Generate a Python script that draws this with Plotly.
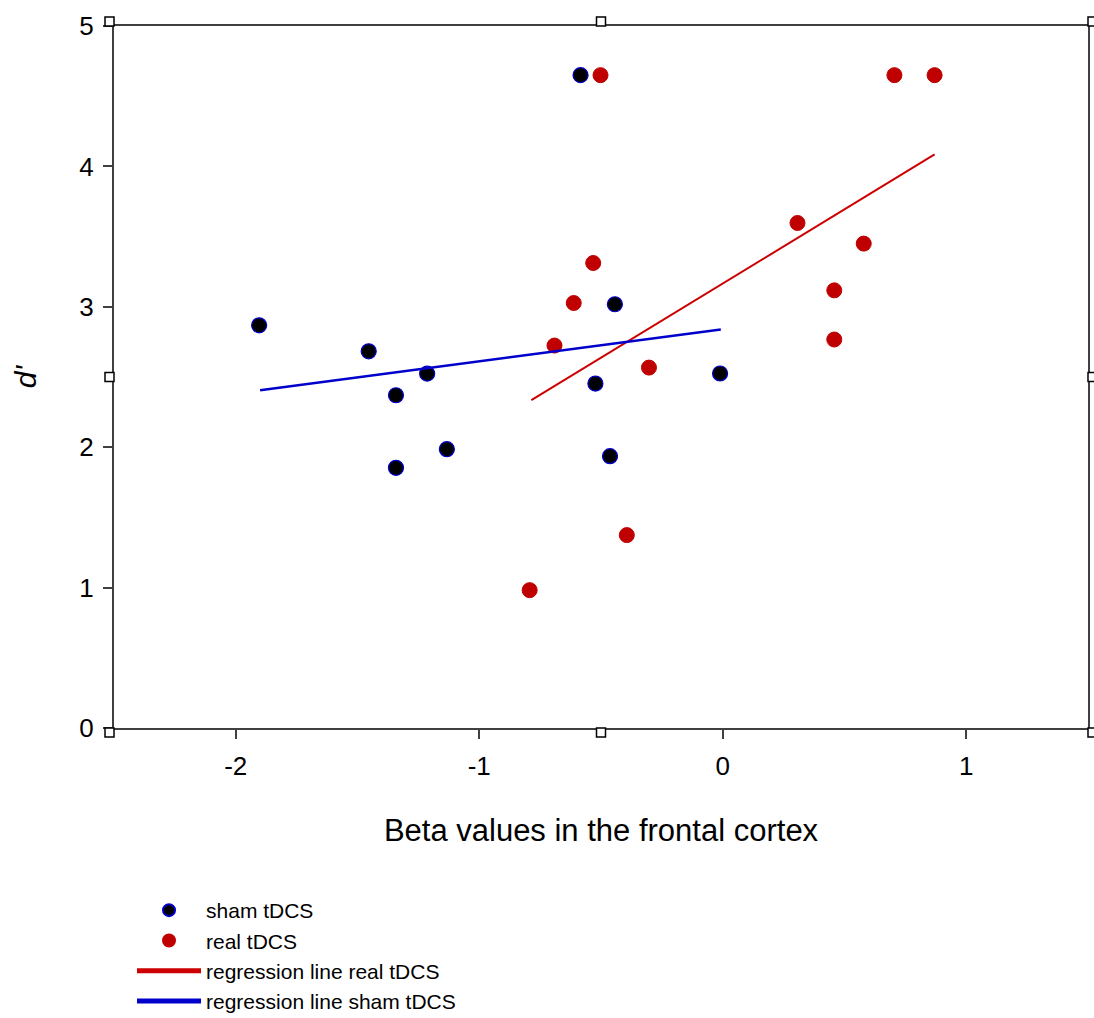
import plotly.graph_objects as go

# Data
sham_x = [-1.904, -1.454, -1.342, -1.214, -1.342, -1.133, -0.584, -0.443, -0.523, -0.463, -0.011]
sham_y = [2.868, 2.683, 2.370, 2.524, 1.853, 1.986, 4.650, 3.018, 2.453, 1.936, 2.525]

real_x = [-0.502, 0.705, 0.870, 0.307, 0.579, 0.458, 0.458, -0.532, -0.612, -0.691, -0.303, -0.793, -0.394]
real_y = [4.650, 4.650, 4.650, 3.597, 3.450, 3.117, 2.767, 3.312, 3.027, 2.724, 2.567, 0.982, 1.374]

reg_real_x = [-0.786, 0.870]
reg_real_y = [2.335, 4.085]
reg_sham_x = [-1.900, -0.008]
reg_sham_y = [2.406, 2.838]

x_ticks = [-2, -1, 0, 1]
y_ticks = [0, 1, 2, 3, 4, 5]

FONT = "Liberation Sans, Arial, sans-serif"
RED = "#c00000"
BLUE = "#0000cc"

fig = go.Figure()
fig.add_trace(go.Scatter(x=sham_x, y=sham_y, mode="markers", name="sham tDCS",
                         marker=dict(size=15, color="black", line=dict(color=BLUE, width=1.2))))
fig.add_trace(go.Scatter(x=real_x, y=real_y, mode="markers", name="real tDCS",
                         marker=dict(size=15, color=RED, line=dict(color=RED, width=1))))
fig.add_trace(go.Scatter(x=reg_real_x, y=reg_real_y, mode="lines", name="regression line real tDCS",
                         line=dict(color="#cc0000", width=2)))
fig.add_trace(go.Scatter(x=reg_sham_x, y=reg_sham_y, mode="lines", name="regression line sham tDCS",
                         line=dict(color=BLUE, width=2.5)))

axis_common = dict(showgrid=False, zeroline=False, showline=True, linecolor="#404040", linewidth=2,
                   mirror=True, ticks="outside", ticklen=9, tickwidth=1.5, tickcolor="#404040",
                   tickfont=dict(family=FONT, size=26, color="black"))

fig.update_xaxes(range=[-2.5, 1.5], tickvals=x_ticks, ticktext=[str(v) for v in x_ticks],
                 ticklabelstandoff=5,
                 title=dict(text="Beta values in the frontal cortex", font=dict(family=FONT, size=31, color="black"),
                            standoff=39),
                 **axis_common)
fig.update_yaxes(range=[0, 5], tickvals=y_ticks, ticktext=[str(v) for v in y_ticks],
                 ticklabelstandoff=4,
                 title=dict(text="<i>d'</i>", font=dict(family=FONT, size=30, color="black"), standoff=34),
                 **axis_common)

# small square handles at corners and midpoints of the frame
def handle(xp, yp, dx0, dx1, dy0, dy1):
    fig.add_shape(type="rect", xref="paper", yref="paper", xsizemode="pixel", ysizemode="pixel",
                  xanchor=xp, yanchor=yp, x0=dx0, x1=dx1, y0=dy0, y1=dy1,
                  line=dict(color="black", width=1.5), fillcolor="white", layer="above")

handle(0, 1, -9, 0, 0, 9)
handle(0.5, 1, -4.5, 4.5, 0, 9)
handle(1, 1, 0, 8, 0, 9)
handle(0, 0, -9, 0, -9, 0)
handle(0.5, 0, -4.5, 4.5, -9, 0)
handle(1, 0, 0, 8, -9, 0)
handle(0, 0.5, -9, 0, -4.5, 4.5)
handle(1, 0.5, 0, 8, -4.5, 4.5)

fig.update_layout(
    width=1094, height=1018,
    margin=dict(l=114, r=6, t=26, b=290, autoexpand=False),
    paper_bgcolor="white", plot_bgcolor="white",
    showlegend=True,
    legend=dict(x=0.0185, y=-0.2308, xanchor="left", yanchor="top", orientation="v",
                font=dict(family=FONT, size=21, color="black"), itemwidth=64,
                tracegroupgap=0, bgcolor="rgba(0,0,0,0)", itemsizing="constant"),
)

fig.write_html("out.html", config={"displayModeBar": False},
               post_script="document.body.style.margin='0';document.body.style.overflow='hidden';")
